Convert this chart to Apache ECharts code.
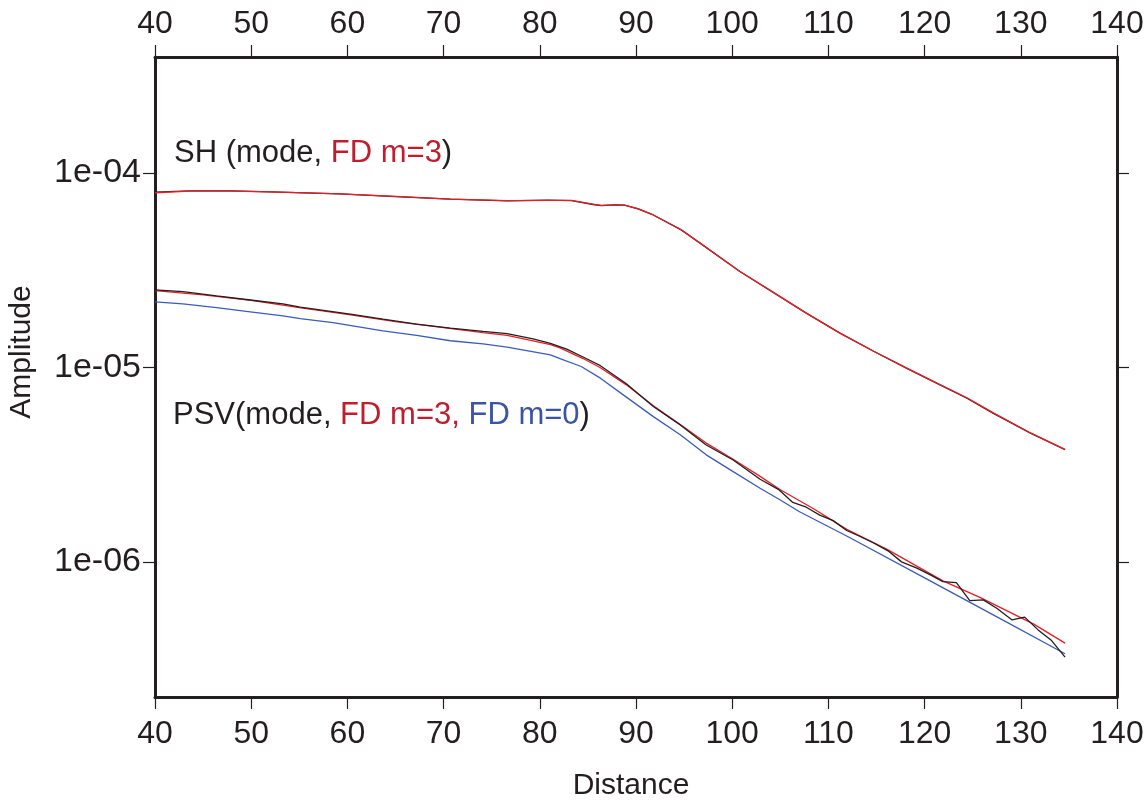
<!DOCTYPE html>
<html>
<head>
<meta charset="utf-8">
<title>Amplitude vs Distance</title>
<script src="https://cdn.jsdelivr.net/npm/echarts@6/dist/echarts.min.js"></script>
<style>
  html, body { margin: 0; padding: 0; background: #ffffff; }
  #chart { width: 1148px; height: 801px; }
</style>
</head>
<body>
<div id="chart"></div>
<script>
// SH amplitudes: normal-mode result and finite-difference (m=3) result
const shDist = [40, 43.6, 48, 52, 59.2, 65, 70.7, 76.6, 80.8, 83.3, 85.7, 86.4, 87.8, 88.8, 90.2, 91.6, 94.7, 96.8, 100.8, 104.3, 107.7, 111.2, 114.7, 118.1, 121.6, 124.4, 127.1, 131.0, 134.6];
const shMode = [7.96e-5, 8.08e-5, 8.08e-5, 7.99e-5, 7.80e-5, 7.55e-5, 7.33e-5, 7.18e-5, 7.24e-5, 7.20e-5, 6.85e-5, 6.79e-5, 6.85e-5, 6.82e-5, 6.53e-5, 6.14e-5, 5.09e-5, 4.30e-5, 3.11e-5, 2.42e-5, 1.90e-5, 1.50e-5, 1.21e-5, 9.91e-6, 8.13e-6, 6.94e-6, 5.82e-6, 4.59e-6, 3.77e-6];
const shFd3 = [7.90e-5, 8.05e-5, 8.06e-5, 7.98e-5, 7.80e-5, 7.56e-5, 7.33e-5, 7.19e-5, 7.22e-5, 7.22e-5, 6.88e-5, 6.80e-5, 6.84e-5, 6.83e-5, 6.55e-5, 6.14e-5, 5.10e-5, 4.31e-5, 3.11e-5, 2.43e-5, 1.90e-5, 1.50e-5, 1.21e-5, 9.93e-6, 8.15e-6, 6.98e-6, 5.85e-6, 4.60e-6, 3.79e-6];

// PSV amplitudes: normal-mode result
const psvModeDist = [40, 42.9, 46.4, 49.9, 53.3, 55.1, 60.3, 63.7, 67.2, 70.7, 74.1, 76.6, 79.3, 81.1, 82.8, 84.5, 86.3, 89.0, 91.8, 94.6, 97.3, 100.1, 102.9, 104.8, 106.3, 107.7, 109.1, 110.5, 111.9, 113.3, 114.7, 116.2, 117.6, 119.2, 120.6, 121.9, 123.3, 124.7, 126.1, 127.5, 129.1, 130.4, 131.8, 133.2, 134.6];
const psvMode = [2.50e-5, 2.45e-5, 2.33e-5, 2.22e-5, 2.12e-5, 2.04e-5, 1.88e-5, 1.77e-5, 1.67e-5, 1.59e-5, 1.53e-5, 1.49e-5, 1.40e-5, 1.33e-5, 1.24e-5, 1.13e-5, 1.02e-5, 8.23e-6, 6.29e-6, 5.06e-6, 3.99e-6, 3.34e-6, 2.66e-6, 2.36e-6, 2.02e-6, 1.91e-6, 1.74e-6, 1.63e-6, 1.45e-6, 1.35e-6, 1.25e-6, 1.14e-6, 1.00e-6, 9.28e-7, 8.57e-7, 7.92e-7, 7.83e-7, 6.32e-7, 6.38e-7, 5.78e-7, 5.03e-7, 5.20e-7, 4.47e-7, 3.94e-7, 3.24e-7];

// PSV amplitudes: finite difference, m=3
const psvFd3Dist = [40, 45, 50, 55, 60, 65, 70, 74.1, 76.6, 79.3, 81.1, 82.1, 84.5, 86.3, 89.0, 91.8, 94.6, 97.3, 100.1, 102.9, 105, 108.5, 111.9, 116.1, 121.9, 125.8, 131.3, 134.6];
const psvFd3 = [2.48e-5, 2.36e-5, 2.21e-5, 2.03e-5, 1.87e-5, 1.72e-5, 1.60e-5, 1.51e-5, 1.46e-5, 1.37e-5, 1.31e-5, 1.26e-5, 1.11e-5, 9.95e-6, 8.13e-6, 6.34e-6, 5.08e-6, 4.08e-6, 3.37e-6, 2.75e-6, 2.35e-6, 1.87e-6, 1.47e-6, 1.16e-6, 7.99e-7, 6.55e-7, 4.80e-7, 3.82e-7];

// PSV amplitudes: finite difference, m=0
const psvFd0Dist = [40, 42.9, 46.4, 49.9, 53.3, 55.1, 58.5, 63.7, 67.2, 70.7, 74.1, 76.6, 81.1, 82.1, 84.3, 86.3, 89.0, 91.8, 94.6, 97.3, 100.1, 102.9, 105, 107, 112, 120, 128, 134.6];
const psvFd0 = [2.17e-5, 2.12e-5, 2.03e-5, 1.93e-5, 1.84e-5, 1.78e-5, 1.70e-5, 1.54e-5, 1.46e-5, 1.37e-5, 1.32e-5, 1.27e-5, 1.16e-5, 1.11e-5, 1.01e-5, 8.80e-6, 7.03e-6, 5.58e-6, 4.50e-6, 3.55e-6, 2.91e-6, 2.39e-6, 2.08e-6, 1.81e-6, 1.35e-6, 8.27e-7, 5.06e-7, 3.37e-7];

// Axis ranges and tick values
const xRange = [40, 140];
const xStep = 10;
const yRange = [2.02e-7, 3.94e-4];
const yTicks = [1e-6, 1e-5, 1e-4];

const FONT = '"Liberation Sans", Arial, Helvetica, sans-serif';
const INK = '#231f20';
const RED_LINE = '#ed1c24';
const BLUE_LINE = '#3b5cb8';
const RED_TEXT = '#be1e2d';
const BLUE_TEXT = '#3a55a4';

const pairs = (xs, ys) => xs.map((x, i) => [x, ys[i]]);

function logLabel(v) {
  const e = Math.log10(v);
  const r = Math.round(e);
  if (Math.abs(e - r) > 1e-6) return '';
  const n = Math.abs(r);
  return '1e' + (r < 0 ? '-' : '+') + (n < 10 ? '0' + n : n);
}

const axisLine = { show: true, onZero: false, lineStyle: { color: INK, width: 3 } };
const axisTick = { show: true, inside: false, length: 12, lineStyle: { color: INK, width: 1.2 } };
const yAxisTick = Object.assign({ customValues: yTicks }, axisTick);
const xTickText = { color: INK, fontSize: 32, fontFamily: FONT };
const yTickText = { color: INK, fontSize: 34, fontFamily: FONT };

function lineSeries(name, xs, ys, color, z) {
  return {
    name, type: 'line', data: pairs(xs, ys), showSymbol: false, symbol: 'none',
    smooth: false, z,
    lineStyle: { color, width: 1.3 },
    emphasis: { disabled: true }
  };
}

const chart = echarts.init(document.getElementById('chart'), null, { renderer: 'canvas' });
chart.setOption({
  animation: false,
  backgroundColor: '#ffffff',
  grid: { left: 155, right: 31, top: 57, bottom: 104, containLabel: false },
  xAxis: [
    {
      type: 'value', position: 'bottom', min: xRange[0], max: xRange[1], interval: xStep,
      axisLine, axisTick, splitLine: { show: false },
      axisLabel: Object.assign({ margin: 21 }, xTickText)
    },
    {
      type: 'value', position: 'top', min: xRange[0], max: xRange[1], interval: xStep,
      axisLine, axisTick, splitLine: { show: false },
      axisLabel: Object.assign({ margin: 17 }, xTickText)
    }
  ],
  yAxis: [
    {
      type: 'log', logBase: 10, position: 'left', min: yRange[0], max: yRange[1],
      axisLine, axisTick: yAxisTick, splitLine: { show: false }, minorTick: { show: false },
      axisLabel: Object.assign({ margin: 14, formatter: logLabel, customValues: yTicks }, yTickText)
    },
    {
      type: 'log', logBase: 10, position: 'right', min: yRange[0], max: yRange[1],
      axisLine, axisTick: yAxisTick, splitLine: { show: false }, minorTick: { show: false },
      axisLabel: { show: false }
    }
  ],
  series: [
    lineSeries('SH mode', shDist, shMode, INK, 2),
    lineSeries('SH FD m=3', shDist, shFd3, RED_LINE, 3),
    lineSeries('PSV FD m=0', psvFd0Dist, psvFd0, BLUE_LINE, 2),
    lineSeries('PSV FD m=3', psvFd3Dist, psvFd3, RED_LINE, 3),
    lineSeries('PSV mode', psvModeDist, psvMode, INK, 4)
  ],
  graphic: [
    {
      type: 'text', x: 174, y: 153,
      style: {
        text: '{k|SH (mode, }{r|FD m=3}{k|)}',
        verticalAlign: 'middle', align: 'left',
        rich: {
          k: { fill: INK, fontSize: 31, fontFamily: FONT },
          r: { fill: RED_TEXT, fontSize: 31, fontFamily: FONT }
        }
      }
    },
    {
      type: 'text', x: 173, y: 415,
      style: {
        text: '{k|PSV(mode, }{r|FD m=3,}{b| FD m=0}{k|)}',
        verticalAlign: 'middle', align: 'left',
        rich: {
          k: { fill: INK, fontSize: 31, fontFamily: FONT },
          r: { fill: RED_TEXT, fontSize: 31, fontFamily: FONT },
          b: { fill: BLUE_TEXT, fontSize: 31, fontFamily: FONT }
        }
      }
    },
    {
      type: 'text', x: 631, y: 786,
      style: { text: 'Distance', fill: INK, fontSize: 30, fontFamily: FONT, align: 'center', verticalAlign: 'middle' }
    },
    {
      type: 'text', x: 22, y: 352, rotation: Math.PI / 2,
      style: { text: 'Amplitude', fill: INK, fontSize: 30, fontFamily: FONT, align: 'center', verticalAlign: 'middle' }
    }
  ]
});
</script>
</body>
</html>
